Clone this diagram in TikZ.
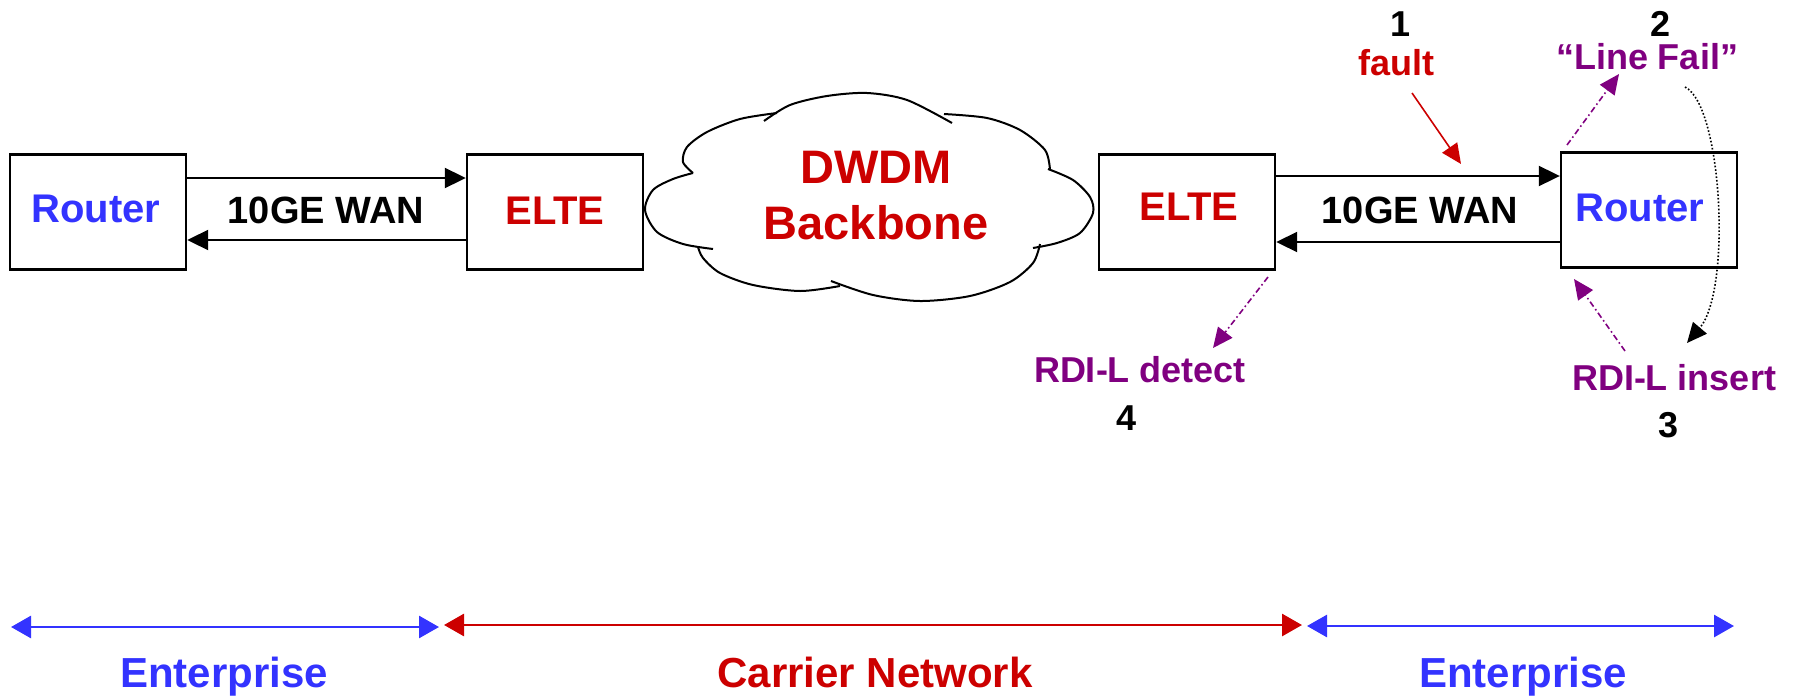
\documentclass[tikz,border=0pt]{standalone}
\usepackage{fontspec}
\setmainfont{Liberation Sans}
\usetikzlibrary{arrows.meta}
\definecolor{routerblue}{RGB}{51,51,255}
\definecolor{elted}{RGB}{204,0,0}
\definecolor{sigpurple}{RGB}{128,0,128}
\tikzset{
  x=0.5pt, y=-0.5pt,
  lbl/.style={font=\bfseries\fontsize{#1}{#1}\selectfont, inner sep=0pt,
    text height=\dimexpr#1*72/100\relax, text depth=0pt, anchor=center},
  lbl/.default=18pt,
  netbox/.style={draw, line width=1.2pt, minimum width=88pt, minimum height=57.5pt,
    inner sep=0pt},
  link/.style={line width=1pt, -{Triangle[length=10.5pt,width=10pt]}},
  signal/.style={sigpurple, line width=0.8pt,
    dash pattern=on 3pt off 1.5pt on 0.8pt off 1.5pt,
    -{Triangle[length=10pt,width=9pt]}},
  puff/.style={line width=1pt},
  span/.style={line width=1.4pt, {Triangle[length=10pt,width=11pt]}-{Triangle[length=10pt,width=11pt]}}
}
\begin{document}
\begin{tikzpicture}
\useasboundingbox (0,0) rectangle (1798,696);

% equipment boxes and their names
\node[netbox] (r1) at (98,212) {};
\node[netbox] (e1) at (555,212) {};
\node[netbox] (e2) at (1187,212) {};
\node[netbox] (r2) at (1649,210) {};
\node[lbl=20pt, text=routerblue] (r1t) at (96,208) {Router};
\node[lbl=20pt, text=elted] (e1t) at (555,210) {ELTE};
\node[lbl=20pt, text=elted] (e2t) at (1189,206) {ELTE};
\node[lbl=20pt, text=routerblue] (r2t) at (1640,207) {Router};

% WAN links
\draw[link] ([yshift=17pt]r1.east) -- ([yshift=17pt]e1.west);
\draw[link] ([yshift=-14pt]e1.west) -- ([yshift=-14pt]r1.east);
\node[lbl=19pt] (w1) at (326,210) {10GE WAN};
\draw[link] ([yshift=18pt]e2.east) -- ([yshift=17pt]r2.west);
\draw[link] ([yshift=-16pt]r2.west) -- ([yshift=-15pt]e2.east);
\node[lbl=19pt] (w2) at (1420,210) {10GE WAN};

% DWDM cloud
\begin{scope}[puff]
\draw plot[smooth] coordinates {(693,173) (683,162) (687,147) (707,132) (740,119) (777,113)};
\draw plot[smooth] coordinates {(764,121) (790,105) (827,96) (867,93) (907,100) (952,123)};
\draw plot[smooth] coordinates {(944,114) (987,118) (1020,130) (1045,150) (1050,170)};
\draw plot[smooth] coordinates {(1048,169) (1073,180) (1090,197) (1093,213) (1080,233) (1057,243) (1033,248)};
\draw plot[smooth] coordinates {(1040,244) (1033,263) (1010,282) (970,296) (920,301) (873,295) (831,281)};
\draw plot[smooth] coordinates {(840,286) (800,291) (753,285) (720,273) (703,258) (698,247)};
\draw plot[smooth] coordinates {(713,249) (683,244) (657,232) (645,210) (653,190) (673,179) (693,173)};
\end{scope}
\node[lbl=23.5pt, text=elted] (dw) at (876,167) {DWDM};
\node[lbl=23.5pt, text=elted] (bb) at (876,223) {Backbone};

% fault and alarm sequence
\node[lbl] (n1) at (1400,24) {1};
\node[lbl, text=elted] (flt) at (1396,63) {fault};
\coordinate (fltA) at (1412,93);
\coordinate (fltB) at (1461,164);
\draw[elted, line width=0.8pt, -{Triangle[length=10pt,width=9pt]}] (fltA) -- (fltB);

\node[lbl] (n2) at (1660,24) {2};
\node[lbl, text=sigpurple] (lf) at (1647,57) {“Line Fail”};
\coordinate (lfA) at (1567,145);
\coordinate (lfB) at (1619,74);
\draw[signal] (lfA) -- (lfB);

\coordinate (dotA) at (1685,87);
\coordinate (dotB) at (1687,343);
\draw[line width=0.8pt, dash pattern=on 0.8pt off 1pt, -{Triangle[length=10pt,width=9pt]}]
  (dotA) .. controls (1722,105) and (1732,290) .. (dotB);

\node[lbl, text=sigpurple] (ins) at (1674,378) {RDI-L insert};
\node[lbl] (n3) at (1668,425) {3};
\coordinate (insA) at (1625,351);
\coordinate (insB) at (1574,279);
\draw[signal] (insA) -- (insB);

\node[lbl, text=sigpurple] (det) at (1140,370) {RDI-L detect};
\node[lbl] (n4) at (1126,418) {4};
\coordinate (detA) at (1268,277);
\coordinate (detB) at (1213,348);
\draw[signal] (detA) -- (detB);

% network domains
\coordinate (d1a) at (11,627);
\coordinate (d1b) at (439,627);
\coordinate (d2a) at (444,625);
\coordinate (d2b) at (1302,625);
\coordinate (d3a) at (1307,626);
\coordinate (d3b) at (1734,626);
\draw[span, routerblue] (d1a) -- (d1b);
\draw[span, elted] (d2a) -- (d2b);
\draw[span, routerblue] (d3a) -- (d3b);
\node[lbl=21pt, text=routerblue] (ent1) at (224,672) {Enterprise};
\node[lbl=21pt, text=elted] (car) at (875,672) {Carrier Network};
\node[lbl=21pt, text=routerblue] (ent2) at (1523,672) {Enterprise};
\end{tikzpicture}
\end{document}
